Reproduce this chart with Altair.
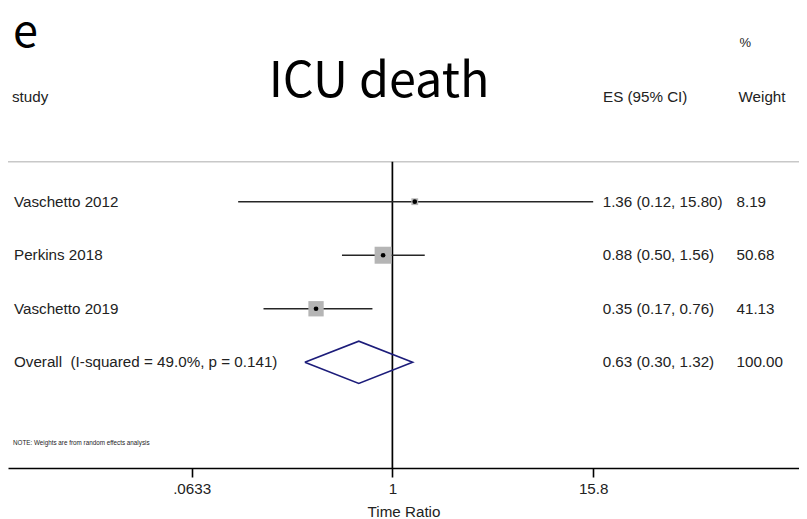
import altair as alt
import pandas as pd

# ---------------- data ----------------
studies = ["Vaschetto 2012", "Perkins 2018", "Vaschetto 2019"]
es = [1.36, 0.88, 0.35]
ci_lo = [0.12, 0.50, 0.17]
ci_hi = [15.80, 1.56, 0.76]
weights = [8.19, 50.68, 41.13]

overall_label = "Overall \u00a0(I-squared = 49.0%, p = 0.141)"
overall_es = 0.63
overall_lo = 0.30
overall_hi = 1.32
overall_weight = 100.00

tick_values = [0.0633, 1, 15.8]
tick_labels = [".0633", "1", "15.8"]

panel_letter = "e"
chart_title = "ICU death"
note_text = "NOTE: Weights are from random effects analysis"
x_title = "Time Ratio"

# ---------------- layout ----------------
W, H = 791, 460
FONT = "Liberation Sans"
TXT = "#222222"
FS = 15.2

# log x-scale: 1 decade ~ 167.5 px, value 1 at x=384.4 px
LOG_MIN = -384.4 / 167.5
LOG_MAX = (W - 384.4) / 167.5
xscale = alt.Scale(type="log", domain=[10 ** LOG_MIN, 10 ** LOG_MAX], nice=False)

# y rows: row 0 at 193.7 px, 53.53 px per row
ROW0, ROWH = 193.7, 53.53
yscale = alt.Scale(domain=[-ROW0 / ROWH, (H - ROW0) / ROWH], reverse=True, nice=False, zero=False)
TOP_LINE = (153.7 - ROW0) / ROWH
BOTTOM = (H - ROW0) / ROWH

# ---------------- frames ----------------
n = len(studies)
study_df = pd.DataFrame({
    "label": studies, "es": es, "lo": ci_lo, "hi": ci_hi,
    "weight": weights, "row": list(range(n)),
})

all_df = pd.DataFrame({
    "label": studies + [overall_label],
    "es_text": [f"{e:.2f} ({l:.2f}, {h:.2f})" for e, l, h in zip(es, ci_lo, ci_hi)]
               + [f"{overall_es:.2f} ({overall_lo:.2f}, {overall_hi:.2f})"],
    "w_text": [f"{w:.2f}" for w in weights] + [f"{overall_weight:.2f}"],
    "row": list(range(n + 1)),
})

HALF = 0.395
diamond_df = pd.DataFrame({
    "x": [overall_lo, overall_es, overall_hi, overall_es, overall_lo],
    "y": [n, n - HALF, n, n + HALF, n],
    "o": [0, 1, 2, 3, 4],
})

ref_df = pd.DataFrame({"x": [1.0], "y": [TOP_LINE], "y2": [BOTTOM]})
top_df = pd.DataFrame({"y": [TOP_LINE]})

label_expr = f"'{tick_labels[-1]}'"
for v, l in reversed(list(zip(tick_values[:-1], tick_labels[:-1]))):
    label_expr = f"abs(datum.value - {v}) < 1e-6 ? '{l}' : {label_expr}"

xaxis = alt.Axis(
    values=tick_values, labelExpr=label_expr, title=x_title,
    grid=False, domainColor="black", domainWidth=1.6, tickColor="black",
    tickWidth=1.6, tickSize=9, labelFont=FONT, labelFontSize=FS, labelColor=TXT,
    labelPadding=4, titleFont=FONT, titleFontSize=FS, titleFontWeight="normal",
    titleColor=TXT, titlePadding=8, labelFlush=False,
)

# ---------------- layers ----------------
top_line = alt.Chart(top_df).mark_rule(color="#c8c8c8", strokeWidth=1.6).encode(
    y=alt.Y("y:Q", scale=yscale, axis=None)
)

ref_line = alt.Chart(ref_df).mark_rule(color="black", strokeWidth=1.7).encode(
    x=alt.X("x:Q", scale=xscale, axis=xaxis),
    y=alt.Y("y:Q", scale=yscale, axis=None),
    y2="y2:Q",
)

ci = alt.Chart(study_df).mark_rule(color="#262626", strokeWidth=1.6).encode(
    x=alt.X("lo:Q", scale=xscale, axis=xaxis),
    x2="hi:Q",
    y=alt.Y("row:Q", scale=yscale, axis=None),
)

boxes = alt.Chart(study_df).mark_square(color="#b5b5b5", opacity=1).encode(
    x=alt.X("es:Q", scale=xscale, axis=xaxis),
    y=alt.Y("row:Q", scale=yscale, axis=None),
    size=alt.Size("weight:Q", scale=alt.Scale(domain=[0, 100], range=[0, 570]), legend=None),
)

dots = alt.Chart(study_df).mark_circle(color="black", opacity=1, size=22).encode(
    x=alt.X("es:Q", scale=xscale, axis=xaxis),
    y=alt.Y("row:Q", scale=yscale, axis=None),
)

diamond = alt.Chart(diamond_df).mark_line(color="#1c1c7a", strokeWidth=1.6).encode(
    x=alt.X("x:Q", scale=xscale, axis=xaxis),
    y=alt.Y("y:Q", scale=yscale, axis=None),
    order="o:Q",
)

def row_text(field, xpos):
    return alt.Chart(all_df).mark_text(
        align="left", baseline="middle", font=FONT, fontSize=FS, color=TXT
    ).encode(
        x=alt.value(xpos),
        y=alt.Y("row:Q", scale=yscale, axis=None),
        text=f"{field}:N",
    )

labels = row_text("label", 6)
es_col = row_text("es_text", 594.7)
w_col = row_text("w_text", 728.5)

def fixed_text(txt, xpos, ypos, size=FS, font=FONT, align="left", baseline="middle"):
    return alt.Chart(pd.DataFrame({"t": [txt]})).mark_text(
        align=align, baseline=baseline, font=font, fontSize=size, color=TXT
    ).encode(x=alt.value(xpos), y=alt.value(ypos), text="t:N")

hdr_study = fixed_text("study", 4, 89)
hdr_es = fixed_text("ES (95% CI)", 595, 89)
hdr_w = fixed_text("Weight", 730.5, 89)
hdr_pct = fixed_text("%", 731.6, 35.3, size=13)
letter = alt.Chart(pd.DataFrame({"t": [panel_letter]})).mark_text(
    align="left", baseline="alphabetic", font="Noto Sans CJK KR", fontSize=45, color="black"
).encode(x=alt.value(5), y=alt.value(39), text="t:N")
title_txt = alt.Chart(pd.DataFrame({"t": [chart_title]})).mark_text(
    align="center", baseline="alphabetic", font="Noto Sans CJK KR", fontSize=48.5, color="black"
).encode(x=alt.value(371), y=alt.value(88.5), text="t:N")
note = fixed_text(note_text, 5, 435, size=6.3)

chart = alt.layer(
    top_line, ref_line, ci, boxes, dots, diamond,
    labels, es_col, w_col, hdr_study, hdr_es, hdr_w, hdr_pct, letter, title_txt, note,
).properties(
    width=W, height=H,
    autosize=alt.AutoSizeParams(type="none"),
    padding={"left": 0, "top": 0, "right": 0, "bottom": 51},
    background="white",
).configure_view(stroke=None)

chart.save("out.html", embed_options={"renderer": "svg", "actions": False})
